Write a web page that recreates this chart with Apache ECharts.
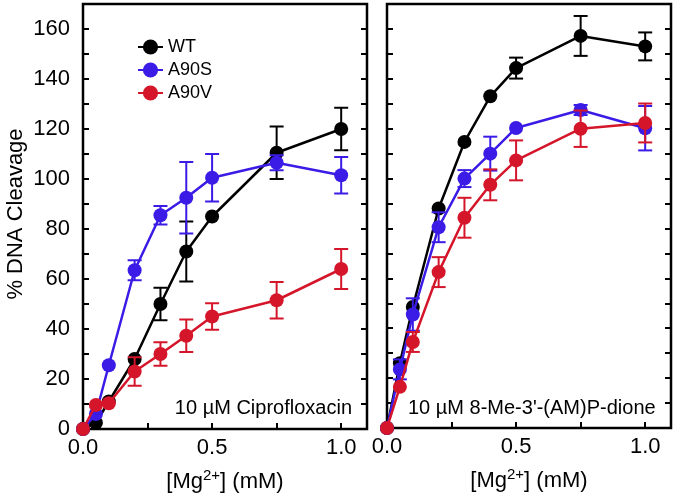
<!DOCTYPE html>
<html>
<head>
<meta charset="utf-8">
<script src="https://cdn.jsdelivr.net/npm/echarts@6/dist/echarts.min.js"></script>
<style>
html,body{margin:0;padding:0;background:#fff;}
#chart{width:675px;height:499px;}
</style>
</head>
<body>
<div id="chart"></div>
<script>
// Mg2+ concentrations (mM)
const xValues = [0, 0.05, 0.1, 0.2, 0.3, 0.4, 0.5, 0.75, 1.0];

// Left panel: 10 µM Ciprofloxacin
const cipWT      = [0, 2.5, 11, 28, 50, 71, 85, 110.5, 120];
const cipWTErr   = [0, 0, 0, 0, 6.5, 12, 0, 10.5, 8.5];
const cipA90S    = [0, 6, 25.5, 63.5, 85.5, 92.5, 100.5, 106.5, 101.5];
const cipA90SErr = [0, 0, 0, 4, 3.7, 14.3, 9.5, 3, 7.3];
const cipA90V    = [0, 9.6, 10.3, 23, 30, 37.3, 45, 51.5, 64];
const cipA90VErr = [0, 0, 0, 5.7, 4.7, 6.5, 5.3, 7.3, 8];

// Right panel: 10 µM 8-Me-3'-(AM)P-dione
const dioWT      = [0, 26, 48.5, 88, 114.7, 133, 144.3, 157.2, 153];
const dioWTErr   = [0, 0, 0, 0, 0, 0, 4.2, 8, 5.6];
const dioA90S    = [0, 23.5, 45.5, 80.5, 100, 110, 120.3, 127.5, 120.2];
const dioA90SErr = [0, 4, 6.5, 6, 3.4, 6.8, 0, 2, 8.9];
const dioA90V    = [0, 16.5, 34.5, 62.5, 84.3, 97.5, 107.3, 120, 122.3];
const dioA90VErr = [0, 0, 4, 6, 8, 6.2, 8, 7.3, 7.8];

const seriesNames = ['WT', 'A90S', 'A90V'];
const colors = ['#000000', '#3a1ce6', '#d4152a'];
const panelNotes = ['10 µM Ciprofloxacin', "10 µM 8-Me-3'-(AM)P-dione"];
const yTitle = '% DNA Cleavage';
const xTitle = '{b|[Mg}{sup|2+}{b|] (mM)}';

const FONT = 'Liberation Sans, Arial, Helvetica, sans-serif';

const chart = echarts.init(document.getElementById('chart'));

function pts(ys) { return xValues.map((x, i) => [x, ys[i]]); }
function errs(ys, es) {
  const out = [];
  xValues.forEach((x, i) => { if (es[i] > 0) out.push([x, ys[i] - es[i], ys[i] + es[i]]); });
  return out;
}
function errRender(color) {
  return function (params, api) {
    const x = api.value(0);
    const lo = api.coord([x, api.value(1)]);
    const hi = api.coord([x, api.value(2)]);
    const w = 7;
    const st = { stroke: color, lineWidth: 2 };
    return {
      type: 'group',
      children: [
        { type: 'line', shape: { x1: lo[0], y1: lo[1], x2: hi[0], y2: hi[1] }, style: st },
        { type: 'line', shape: { x1: hi[0] - w, y1: hi[1], x2: hi[0] + w, y2: hi[1] }, style: st },
        { type: 'line', shape: { x1: lo[0] - w, y1: lo[1], x2: lo[0] + w, y2: lo[1] }, style: st }
      ]
    };
  };
}

const panels = [
  { ys: [cipWT, cipA90S, cipA90V], es: [cipWTErr, cipA90SErr, cipA90VErr] },
  { ys: [dioWT, dioA90S, dioA90V], es: [dioWTErr, dioA90SErr, dioA90VErr] }
];

const grids = [
  { left: 83, top: 4, width: 284, height: 425, show: true, borderColor: '#000', borderWidth: 2.5, backgroundColor: 'transparent' },
  { left: 387, top: 4, width: 284, height: 424, show: true, borderColor: '#000', borderWidth: 2.5, backgroundColor: 'transparent' }
];

const xAxes = [], yAxes = [], series = [];
panels.forEach((p, g) => {
  xAxes.push({
    type: 'value', gridIndex: g, min: 0, max: 1.1, interval: 0.25,
    axisLine: { show: false },
    axisTick: { show: true, inside: true, length: 6, lineStyle: { color: '#000', width: 2 } },
    splitLine: { show: false },
    axisLabel: {
      color: '#000', fontSize: 22, fontFamily: FONT, margin: 8, showMaxLabel: false,
      formatter: v => (Math.abs(v * 2 - Math.round(v * 2)) < 1e-6 && v <= 1.0001) ? v.toFixed(1) : ''
    },
    name: xTitle, nameLocation: 'middle', nameGap: 36,
    nameTextStyle: {
      color: '#000', fontSize: 22, fontFamily: FONT,
      rich: {
        b: { fontSize: 22, fontFamily: FONT, color: '#000', lineHeight: 28, verticalAlign: 'bottom' },
        sup: { fontSize: 15, fontFamily: FONT, color: '#000', lineHeight: 15, verticalAlign: 'bottom', padding: [0, 0, 10, 0] }
      }
    }
  });
  yAxes.push({
    type: 'value', gridIndex: g, min: 0, max: 170, interval: 10, position: 'left',
    axisLine: { show: false },
    axisTick: { show: true, inside: true, length: 6, lineStyle: { color: '#000', width: 2 } },
    splitLine: { show: false },
    axisLabel: {
      show: g === 0, color: '#000', fontSize: 22, fontFamily: FONT, margin: 13, showMaxLabel: false,
      formatter: v => (v % 20 === 0 ? String(v) : '')
    }
  });
  yAxes.push({
    type: 'value', gridIndex: g, min: 0, max: 170, interval: 10, position: 'right',
    axisLine: { show: false },
    axisTick: { show: true, inside: true, length: 6, lineStyle: { color: '#000', width: 2 } },
    splitLine: { show: false },
    axisLabel: { show: false }
  });
  seriesNames.forEach((name, k) => {
    series.push({
      name: name, type: 'line', xAxisIndex: g, yAxisIndex: g * 2,
      data: pts(p.ys[k]), symbol: 'circle', symbolSize: 14, showSymbol: true,
      lineStyle: { color: colors[k], width: 2.5 },
      itemStyle: { color: colors[k] },
      emphasis: { disabled: true }, animation: false, z: 2 + k
    });
    series.push({
      name: name + ' error', type: 'custom', xAxisIndex: g, yAxisIndex: g * 2,
      data: errs(p.ys[k], p.es[k]), renderItem: errRender(colors[k]),
      encode: { x: 0, y: [1, 2] }, animation: false, z: 2 + k, silent: true
    });
  });
});

const option = {
  backgroundColor: '#fff',
  animation: false,
  textStyle: { fontFamily: FONT },
  grid: grids,
  xAxis: xAxes,
  yAxis: yAxes,
  legend: {
    data: seriesNames, orient: 'vertical', left: 137, top: 38, padding: 0,
    itemWidth: 25, itemHeight: 19, itemGap: 5,
    textStyle: { color: '#000', fontSize: 18, fontFamily: FONT },
    selectedMode: false
  },
  graphic: [
    { type: 'text', x: 352, y: 408, z: 10,
      style: { text: panelNotes[0], fill: '#000', fontSize: 20, fontFamily: FONT, textAlign: 'right', textVerticalAlign: 'middle' } },
    { type: 'text', x: 408, y: 408, z: 10,
      style: { text: panelNotes[1], fill: '#000', fontSize: 20, fontFamily: FONT, textAlign: 'left', textVerticalAlign: 'middle' } },
    { type: 'text', x: 16, y: 214, rotation: Math.PI / 2, z: 10,
      style: { text: yTitle, fill: '#000', fontSize: 22, fontFamily: FONT, textAlign: 'center', textVerticalAlign: 'middle' } }
  ],
  series: series
};
chart.setOption(option);
</script>
</body>
</html>
